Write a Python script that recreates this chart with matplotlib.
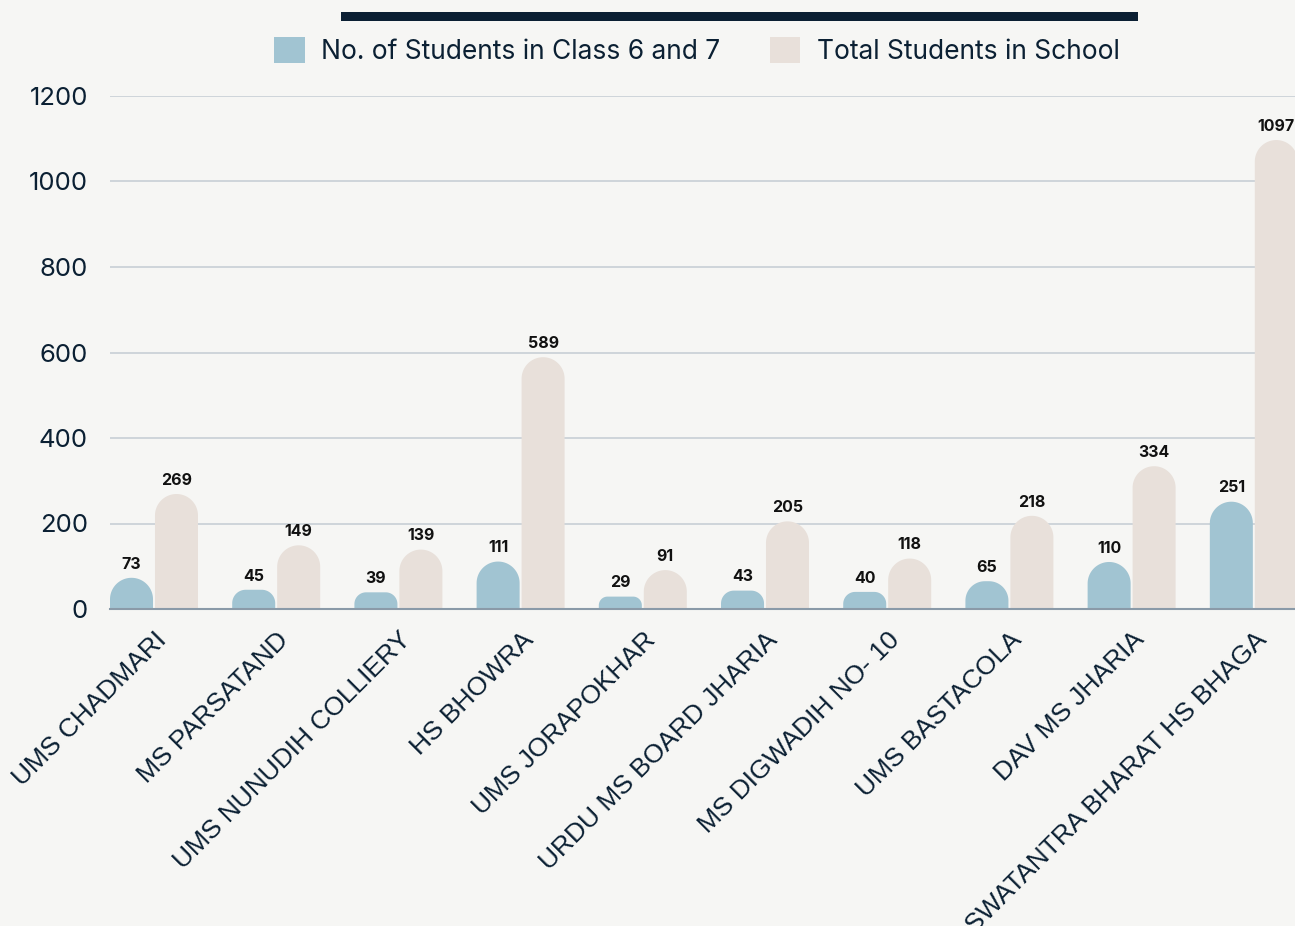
import numpy as np
import matplotlib.pyplot as plt
from matplotlib.patches import PathPatch, Rectangle
from matplotlib.path import Path
from matplotlib.transforms import ScaledTranslation

# ------------------------------ DATA ------------------------------
schools = ['UMS CHADMARI', 'MS PARSATAND', 'UMS NUNUDIH COLLIERY', 'HS BHOWRA',
           'UMS JORAPOKHAR', 'URDU MS BOARD JHARIA', 'MS DIGWADIH NO- 10',
           'UMS BASTACOLA', 'DAV MS JHARIA', 'SWATANTRA BHARAT HS BHAGA']
class_6_7 = [73, 45, 39, 111, 29, 43, 40, 65, 110, 251]
total_students = [269, 149, 139, 589, 91, 205, 118, 218, 334, 1097]
series_names = ['No. of Students in Class 6 and 7', 'Total Students in School']
y_ticks = [0, 200, 400, 600, 800, 1000, 1200]

BG = '#f6f6f4'
BLUE = '#a1c4d2'
BEIGE = '#e8e0da'
NAVY = '#0b2033'

fig = plt.figure(figsize=(12.95, 9.26), dpi=100, facecolor=BG)
ax = fig.add_axes([110 / 1295, 1 - 609 / 926, 1185 / 1295, 513 / 926], facecolor=BG)

x = np.arange(len(schools))
bar_w = 0.352
off = 0.184
ax.set_xlim(-0.36, 9.337)
ax.set_ylim(0, 1200)


def rounded(rect, color):
    # rebuild a bar rectangle with a rounded top, radius in pixels
    x0, w, h = rect.get_x(), rect.get_width(), rect.get_height()
    (px0, py0), (px1, py1) = ax.transData.transform([(x0, 0), (x0 + w, h)])
    r = min((px1 - px0) / 2, (py1 - py0) * 0.7)
    t = np.linspace(0, np.pi / 2, 25)
    right = np.column_stack([px1 - r + r * np.cos(t), py1 - r + r * np.sin(t)])
    left = np.column_stack([px0 + r - r * np.sin(t), py1 - r + r * np.cos(t)])
    pts = np.vstack([[px0, py0], [px1, py0], right, left, [px0, py0]])
    pts = ax.transData.inverted().transform(pts)
    codes = [Path.MOVETO] + [Path.LINETO] * (len(pts) - 2) + [Path.CLOSEPOLY]
    ax.add_patch(PathPatch(Path(pts, codes), facecolor=color, edgecolor='none', zorder=3))
    rect.set_visible(False)


for vals, shift, color in [(class_6_7, -off, BLUE), (total_students, off, BEIGE)]:
    bars = ax.bar(x + shift, vals, bar_w, color=color)
    for rect, v in zip(bars, vals):
        rounded(rect, color)
        ax.annotate(str(v), (rect.get_x() + rect.get_width() / 2, v), xytext=(0, 4.5),
                    textcoords='offset points', ha='center', va='bottom',
                    fontsize=11.5, fontweight='bold', family='Inter', color='#111111',
                    annotation_clip=False, zorder=4)

# axes styling
for s in ['top', 'right', 'left']:
    ax.spines[s].set_visible(False)
ax.spines['bottom'].set_color('#8a9aa8')
ax.spines['bottom'].set_linewidth(1.5)
ax.spines['bottom'].set_zorder(5)
ax.set_yticks(y_ticks)
ax.yaxis.grid(True, color='#c8cfd5', linewidth=1.2, zorder=0)
ax.set_axisbelow(True)
ax.tick_params(axis='y', length=0, pad=15.8, labelsize=18.5, labelcolor=NAVY)
for lab in ax.get_yticklabels():
    lab.set_family('Inter')

ax.set_xticks(x)
ax.set_xticklabels(schools, rotation=45, ha='right', va='center',
                   rotation_mode='anchor', fontsize=19, family='Liberation Sans', color=NAVY)
ax.tick_params(axis='x', length=0, pad=0)
shift_t = ScaledTranslation(0.09, -0.27, fig.dpi_scale_trans)
for lab in ax.get_xticklabels():
    lab.set_transform(lab.get_transform() + shift_t)

# legend
handles = [Rectangle((0, 0), 1, 1, facecolor=BLUE, edgecolor='none'),
           Rectangle((0, 0), 1, 1, facecolor=BEIGE, edgecolor='none')]
fig.legend(handles, series_names, loc='center', bbox_to_anchor=(697 / 1295, 1 - 51 / 926),
           ncol=2, frameon=False, handlelength=1.14, handleheight=1.14, handletextpad=0.62,
           columnspacing=1.9, prop={'family': 'Inter', 'size': 19}, labelcolor=NAVY)

# dark title strip at the top
fig.patches.append(Rectangle((341 / 1295, 1 - 21 / 926), 797 / 1295, 9 / 926,
                             transform=fig.transFigure, facecolor='#0b1f33', edgecolor='none'))

fig.savefig('out.png', dpi=100, facecolor=BG)
